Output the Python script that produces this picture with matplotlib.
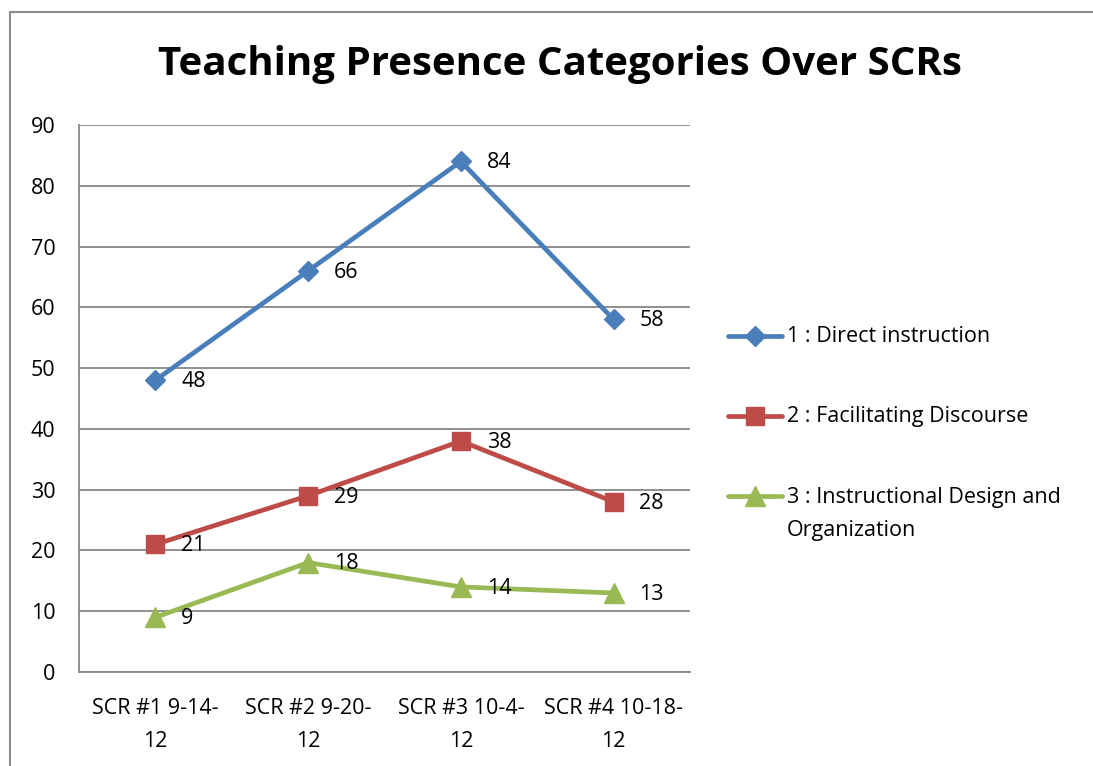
import matplotlib.pyplot as plt
from matplotlib.lines import Line2D

# chart data
categories = ["SCR #1 9-14-\n12", "SCR #2 9-20-\n12", "SCR #3 10-4-\n12", "SCR #4 10-18-\n12"]
direct_instruction = [48, 66, 84, 58]
facilitating_discourse = [21, 29, 38, 28]
instructional_design = [9, 18, 14, 13]
series_names = ["1 : Direct instruction", "2 : Facilitating Discourse",
                "3 : Instructional Design and\nOrganization"]
y_ticks = [0, 10, 20, 30, 40, 50, 60, 70, 80, 90]

plt.rcParams['font.family'] = ['Open Sans', 'DejaVu Sans']

W, H = 1093, 766
fig = plt.figure(figsize=(W / 100, H / 100), dpi=100)
ax = fig.add_axes([79 / W, 1 - 672 / H, (690 - 79) / W, (672 - 125) / H])

# outer chart border (only left and top visible)
border_y = 1 - 12 / H
fig.add_artist(Line2D([10 / W, 10 / W, 1.0], [0.0, border_y, border_y], transform=fig.transFigure,
                      color='#8c8c8c', linewidth=1.5, solid_joinstyle='miter'))

grid_c = '#878787'
fs = 15.5
x = list(range(len(categories)))
styles = [
    (direct_instruction, '#4A7EBB', 'D', 10.5),
    (facilitating_discourse, '#BE4B48', 's', 13),
    (instructional_design, '#98B954', '^', 14),
]
for vals, c, m, ms in styles:
    ax.plot(x, vals, color=c, linewidth=3.4, marker=m, markersize=ms, zorder=3, clip_on=False)
    for xi, v in zip(x, vals):
        ax.annotate(str(v), (xi, v), xytext=(18.5, -1), textcoords='offset points',
                    ha='left', va='center', fontsize=fs, color='black', zorder=4)

ax.set_xlim(-0.5, 3.5)
ax.set_ylim(0, 90)
ax.set_yticks(y_ticks)
ax.set_xticks(x)
ax.set_xticklabels(categories, fontsize=fs, linespacing=1.75)
ax.tick_params(axis='y', length=0, pad=17, labelsize=fs)
ax.tick_params(axis='x', length=0, pad=19)
ax.grid(axis='y', color=grid_c, linewidth=1.3)
ax.set_axisbelow(True)
for s in ['top', 'right']:
    ax.spines[s].set_visible(False)
for s in ['left', 'bottom']:
    ax.spines[s].set_color(grid_c)
    ax.spines[s].set_linewidth(1.3)

fig.text(560 / W, 1 - 65 / H, "Teaching Presence Categories Over SCRs", ha='center', va='center',
         fontsize=29, fontweight='bold')

# legend drawn by hand to match the layout
leg_y = [336, 416, 496]
for (vals, c, m, ms), name, ly in zip(styles, series_names, leg_y):
    yf = 1 - ly / H
    fig.add_artist(Line2D([728 / W, 782 / W], [yf, yf], transform=fig.transFigure,
                          color=c, linewidth=3.4, solid_capstyle='round'))
    fig.add_artist(Line2D([755 / W], [yf], transform=fig.transFigure,
                          color=c, marker=m, markersize=ms, linestyle='none'))
    if '\n' in name:
        fig.text(787 / W, yf + 9 / H, name, ha='left', va='top', fontsize=fs, linespacing=1.75)
    else:
        fig.text(787 / W, yf, name, ha='left', va='center', fontsize=fs)

fig.savefig("out.png", dpi=100)
